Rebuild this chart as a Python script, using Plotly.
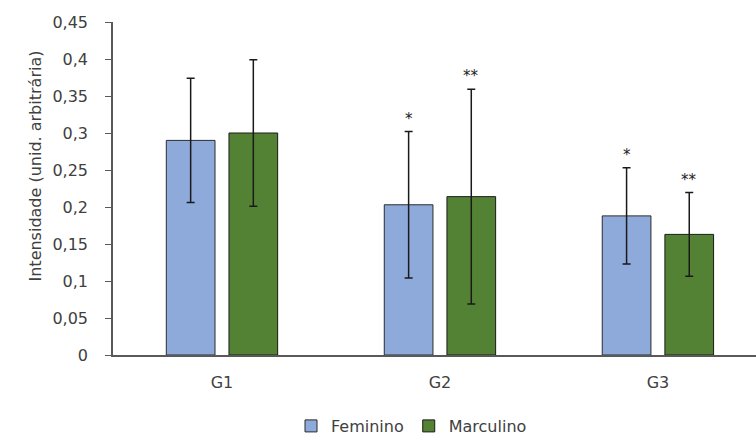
import plotly.graph_objects as go

groups = ["G1", "G2", "G3"]
feminino = [0.29, 0.203, 0.188]
feminino_err = [0.084, 0.099, 0.065]
marculino = [0.30, 0.214, 0.163]
marculino_err = [0.099, 0.145, 0.0565]
fem_sig = ["", "*", "*"]
mas_sig = ["", "**", "**"]
yticks = [0, 0.05, 0.1, 0.15, 0.2, 0.25, 0.3, 0.35, 0.4, 0.45]

W, H = 756, 437
L, R, T, B = 113, 0, 22, 82
FONT = "DejaVu Sans"
TXT = "#404040"

fig = go.Figure()
fig.add_trace(go.Bar(
    name="Feminino", x=groups, y=feminino,
    marker=dict(color="#8EAADB", line=dict(color="#2b2b2b", width=1)),
    error_y=dict(type="data", array=feminino_err, color="#1a1a1a", thickness=1.5, width=4),
))
fig.add_trace(go.Bar(
    name="Marculino", x=groups, y=marculino,
    marker=dict(color="#548235", line=dict(color="#1a1a1a", width=1)),
    error_y=dict(type="data", array=marculino_err, color="#1a1a1a", thickness=1.5, width=4),
))

slot = 62.7
for i, g in enumerate(groups):
    if fem_sig[i]:
        fig.add_annotation(x=g, y=feminino[i] + feminino_err[i], text=fem_sig[i],
                           xshift=-slot / 2, yshift=2, yanchor="bottom", showarrow=False,
                           font=dict(family=FONT, size=15, color="#222222"))
    if mas_sig[i]:
        fig.add_annotation(x=g, y=marculino[i] + marculino_err[i], text=mas_sig[i],
                           xshift=slot / 2, yshift=2, yanchor="bottom", showarrow=False,
                           font=dict(family=FONT, size=15, color="#222222"))

fig.add_annotation(xref="paper", yref="paper",
                   x=(23 - L) / (W - L - R), y=(H - B - 166) / (H - T - B),
                   text="Intensidade (unid. arbitrária)", textangle=-90, showarrow=False,
                   font=dict(family=FONT, size=16, color=TXT))

fig.update_layout(
    width=W, height=H,
    margin=dict(l=L, r=R, t=T, b=B, pad=0, autoexpand=False),
    plot_bgcolor="white", paper_bgcolor="white",
    barmode="group", bargap=0.425, bargroupgap=0.223,
    separators=", ",
    font=dict(family=FONT, size=16, color=TXT),
    showlegend=True,
    legend=dict(orientation="h", x=(291 - L) / (W - L - R), xanchor="left",
                y=-(426 - (H - B)) / (H - T - B), yanchor="middle",
                font=dict(family=FONT, size=16, color=TXT),
                itemwidth=30, tracegroupgap=0),
    xaxis=dict(range=[-0.5, 2.45], showline=True, linecolor="#595959", linewidth=1.5,
               ticks="", ticklabelstandoff=12, showgrid=False, zeroline=False,
               automargin=False,
               tickfont=dict(family=FONT, size=16, color=TXT)),
    yaxis=dict(range=[0, 0.45], tickvals=yticks, showline=True, linecolor="#595959",
               linewidth=1.5, ticks="outside", ticklen=6, tickcolor="#595959",
               ticklabelstandoff=14, showgrid=False, zeroline=False,
               automargin=False,
               tickfont=dict(family=FONT, size=16, color=TXT)),
)

fig.write_html("out.html", config={"displayModeBar": False},
               post_script="document.body.style.margin='0';document.body.style.overflow='hidden';")
